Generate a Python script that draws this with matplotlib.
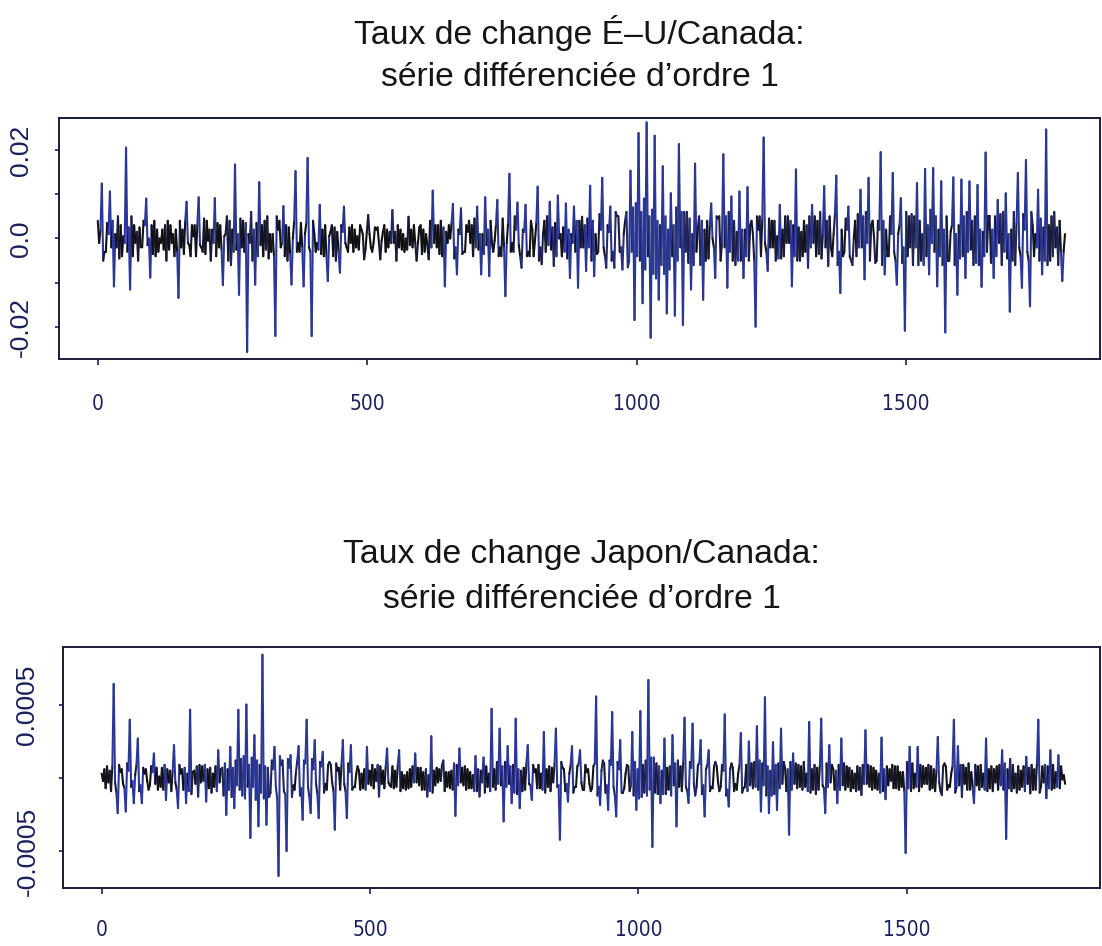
import numpy as np
import matplotlib
matplotlib.use("Agg")
import matplotlib.pyplot as plt
from matplotlib import font_manager
from matplotlib.collections import LineCollection
from matplotlib.colors import LinearSegmentedColormap, Normalize

# Differenced exchange-rate series, three readings per 7.5-day block:
# "main" (where the big moves are), then "core" and "fine" (day-to-day noise).
# US/Canada, in units of 1e-3
usca_main = [
    4, 12.4, -3, 10.6, -10.8, 5, -4, 20.5, -11.5, 3, -5, -2, 9, -8.8, 4, -3, 2, -5, 3, -4,
    -13.4, 2, 8.3, -4, 3, 9.3, -3, 4, -5, 9.1, -2, -10.5, 5, -6, 16.7, -12.7, 4, -25.6, 6, -10.4,
    12.7, -4, 5, -3, -22, 4, 7.3, -5, -10.4, 15.2, -3, -10.8, 18.2, -22, -3, 7.6, -4, -9.6, 3, -5,
    -7.7, 7.2, -3, 3, -2, 3, -4.7, 5.3, -3, 2, -4.7, 3, -2, 6.4, -5, 2, -3, 4.9, -2, -5,
    3, -3, -4.7, 10.8, -2, 4, -10.8, 3, 7.8, -8.1, 6.8, -3, 4, -4, 7.2, -8.1, 9.3, -8.5, -3, 8.7,
    -4, -13, 14.6, -3, 8.1, -6.6, 7.6, -4, -4, 11.7, -5.8, -3, 8.3, -6.2, 9.7, -4, 7.9, -8.9, 7.2, -11.1,
    4.9, -7.3, 11.9, -8.5, -3, 13.7, -6.6, 7.2, -6.6, 5, -7, 6, 15.3, -18.4, 23.8, -14.6, 26.2, -22.4, 23.2, -13.8,
    16.3, -16.9, 10.2, -17.4, 21.3, -19.5, 6, -11.5, 16.9, 5, -13.8, 4, 7.9, -8.9, 5, 19, -11.1, 9.5, -6, 10.6,
    -8.9, 11.6, 4, -19.9, 5, 22.8, -7.3, 4, -5, 7.6, -4, 5, -10.8, 15.6, -5, 4, -6.6, 7.6, -4, 6,
    11.8, -6.2, -4, 14.2, -12.3, -3, 7.2, -6, -4, 11, -9.2, 13.7, 4, -5, 19.5, -8.1, -4, 14.8, -10.4, 9.1,
    -20.8, 5, -6, 12.5, -5, 15.7, -8.1, 15.9, -10.8, 12.9, -21.2, -5, 13.8, -12.7, 13.3, -8.9, 12.9, -6, 12.1, -10.9,
    19.4, 5, -8.9, 8.7, -6, 10.2, -16.5, 6, 14.8, -11.1, 17.7, -15.3, -4, 11, -8.1, 24.6, -5, 6, -6, -9.6,
]
usca_core = [
    -1, -5, 3.5, -2, 1, -4.5, 0.5, -3, 5, -1, 2.5, 4, -1.5, 3, -4, 0, -2.5, 4, -1, 2,
    4, -3.5, -1, 3, -4, -1.5, 4.5, -0.5, 2, -4, 3, 0.5, -5, 2, -2.5, 4.5, -3, 1, -5, 3.5,
    -1.5, 4, -4.5, 1, 5, -2, -4, 2.5, 0, -3, 3.5, 1, -2, 4, -1, -3.5, 3, 0.5, -4, 1.5,
    3, -1, 2.5, -3, 0.5, 2, -2.5, 1, -1, 2.5, -0.5, -3, 1.5, -1, 3, -2.5, 0, -1.5, 3, -1,
    -3.5, 1, 4, -1, 3, -4, 1.5, 0, -4.5, 2, -3.5, 3, -1, 4.5, -2.5, 1, -1.5, 4, -0.5, -4,
    4.5, -1, -3, 5, -1.5, 2, -4, 4, -0.5, -5, 1, 5, -2.5, 3.5, 0, 2.5, -4.5, 1, -3, 4,
    -2, 4.5, -5, 1, 5.5, -2, 3, -5, 6, -3, 1, -6.5, -3, 8, -5, 9, -4, 6.5, -9, 3,
    -8, 2, -4, 7, -2, 6, -5.5, 1, -3, -6, 2, -4.5, 0, 5, -5, -2, 6, -5, 1.5, -5,
    2, -5, 1, 5, -4, -1, 4.5, -2, 0.5, -4.5, 5, -1, 3, -5, 1.5, -3, 5, -1, 4, -4.5,
    -2, 5, 1, -6, 2, 4.5, -4, 0, 5.5, -2, 6, -5, 0.5, 4, -6, 2, 5, -3, 1, -5.5,
    6, -2, 5, -6, 1, -4, 6.5, -3, 2, -6, 5, 1.5, -6, 3, -4, 6, -2.5, 5, -6, 1.5,
    -3, -5.5, 5, -1, 6, -4.5, 2, -6, -2, 5.5, -3, 6, 1, -5, 2.5, -6, 5, -2, 4, -3,
]
usca_fine = [
    2, -3, 1, 4, -2, 3, -1, 2.5, -4, 1.5, -2, 3, 0, -3.5, 2, -1, 3, -2.5, 1, -3,
    -2, 4, -1.5, 0.5, 3, -2, -3.5, 2, -1, 3.5, -2.5, 1, 4, -3, 1, -2, 3.5, -1, 2, -4,
    3, -2.5, 1, -4, 2, -1, 3, -3.5, 4, -1, -2, 3.5, -3, 1, -2.5, 2, -4, 1.5, 2.5, -3,
    1.5, -2, -1, 2, -2.5, 1, 1.5, -2, 2.5, -1, 1.5, 2, -1, 1.5, -2, 1, -2.5, 2, -1, 2.5,
    2, -1.5, -2, 3, -3.5, 2.5, -1, 3.5, -2, 1, -3, 1.5, 3, -2, 1, -3.5, 2, -1, 3, -2,
    -2, 3.5, -1, 2, -4, 1.5, -3, 2, 3.5, -2, 4, -1.5, 2.5, -4, 1, -3, 2, -1, 4, -2,
    3, -2, 4, -3.5, 2, -4, 1.5, -3, 5, -2, 4, -5, 7, -4, 6, -7, 5, -8, 4, -6,
    5, -7, 3, -5, 6, -3, 4.5, -6, 2, 4, -5, 3, -2, 4.5, -1, 5, -3, 4, -5, 2,
    -4, 3, -5, 2, 4.5, -3, -2, 4, -4.5, 2, -1, 4, -4, 2.5, -4, 3, -2, 5, -3.5, 1,
    4, -2, 5.5, -3, -4, 2, -5, 4, -2, 5, -1, 3, -5.5, 2, 4, -4, 1, -5, 3, -2,
    -4, 5.5, -2, 4, -6, 3, -1, 5, -4, 2, -5, 3, 1, -4.5, 5, -3, 4, -5.5, 2, -4,
    5, 2, -4, 5.5, -3, 1, -5, 3.5, -4, 2, -5, 3, -2, 4.5, -5, 3, -4, 2.5, -3, 1,
]

# Japan/Canada, in units of 1e-5
jpca_main = [
    3, -7, 5, 64.4, -24, 6, -22.9, 39.9, -17.2, 27, -17.2, 6, -5, 16.8, -8, 7, -15, 5, 22.5, -20.6,
    6, -17.2, 46.7, 5, -12.7, 8, -16.1, 7, -6, 19, 7, -25.2, 21.3, -20.6, 46.7, -12, 50.3, -41, 29.3, -33,
    84.4, -32, -10, 21.3, -67, 12, -50, 15.6, -8, 21.8, -28.6, 39.9, -24, 25.9, -27.4, 17.9, -8, 9, -35.4, 7,
    25.9, -27.4, 22.5, -6, 5, -7, 21.3, -5, 6, -12.7, 5, 20.2, -6, 5, 19, -7, 4, -6, 16.8, -5,
    4, -12.7, 28.6, -5, 6, 12, -6, 5, -25.9, 20.2, -5, 6, -7, 15, -12.7, 14, -6, 47.4, -8, 33.8,
    -29.7, 21.8, -17.2, 40.6, -20.6, 7, 22.5, -15, 6, -7, 31.5, -6, 7, 33.8, -42.2, 6, -16.1, 21.8, -6, 19,
    -8, 6, -7, 55.8, -18.4, 10, -21.8, 45.1, -26.3, 25.9, -7, 8, 31.5, -21.8, 45.8, -10, 67.1, -47.2, 10, -17.2,
    27, -8, 29.3, -33.1, 8, 41.3, -17, 37.2, -6, 25.9, -26.3, 19, -7, 8, -6, 43.5, -19.5, 7, -8, 30.8,
    -6, 25, -7, 35.4, -22.9, 55.3, -24, 24.5, -21.8, 33.8, 7, -38.8, 16.8, -7, 8, -6, 38.3, -8, 7, 40.6,
    -24, 22.5, 6, -17.2, 27, -8, 7, -7, 8, -11.6, 32.7, -6, 7, -8, 27.7, -14.5, 6, -7, 8, -6,
    -51.3, 21.3, -7, 21.3, -6, 7, -8, 6, 28.1, -11.6, 8, -6, 39.9, 21.8, -13, 7, -8, -17.2, 8, -6,
    27, -7, 6, -8, 19, -41.7, 13, -7, 8, -6, 14.5, -10.5, 6, 39.9, 8, -13.8, 19, -7, 15.6, -1,
]
jpca_core = [
    -2, 8, -9, -3, 9, -4, 10, -6, 2, -9, 7, -2, 8, -4, 1, -8, 6, -9, -3, 9,
    -8, 3, -11, -4, 9, -2, 6, -10, 8, -3, -12, 6, -13, 12, -8, 15, -6, 14, -15, 9,
    -14, 7, 12, -6, 15, -9, 13, -13, 4, -12, 12, -6, 13, -4, 11, -10, 9, -3, 10, -8,
    -4, 10, -8, 3, -8, 6, -4, 9, -2, 8, -7, -3, 8, -6, -9, 2, -7, 8, -3, 7,
    -8, 2, -10, 7, -2, -9, 4, -8, 9, -3, 8, -7, 2, -9, 5, -10, 3, -6, 11, -5,
    11, -4, 9, -11, 5, -8, -4, 9, -7, 3, -10, 8, -3, -6, 11, -9, 3, -10, 8, -3,
    9, -4, 8, -12, 5, -10, 12, -6, 11, -10, 3, -9, -12, 6, -13, 12, -8, 14, -11, 5,
    -11, 8, -5, 12, -9, -6, 11, -4, 9, -11, 6, -9, 8, -3, 9, -12, 6, -9, 3, -10,
    9, -5, 11, -8, 10, -12, 5, -11, 10, -4, -9, 11, -4, 9, -8, 3, -10, 9, -8, -5,
    10, -3, -8, 9, -5, 8, -9, 3, -8, 9, -4, 8, -7, 3, -9, 8, -2, 8, -8, 4,
    11, -9, 3, -9, 8, -4, 8, -9, -3, 8, -8, 3, -10, -5, 9, -8, 4, 9, -8, 3,
    -9, 8, -3, 9, -8, 6, -9, 3, -8, 8, -4, 9, -8, -10, -3, 8, -8, 4, -7, 2,
]
jpca_fine = [
    6, -3, 8, -10, 4, -7, 5, -2, 9, -5, 3, -8, 4, 7, -6, 9, -3, 5, -8, 3,
    7, -9, 4, 8, -3, 9, -7, 3, -9, 6, 10, -8, 7, -5, 13, -14, 9, -6, 12, -10,
    8, -13, 6, -14, 9, -11, 7, -5, 12, -7, 10, -13, 6, -11, 8, -4, 11, -9, 5, 9,
    -9, 4, -6, 8, 3, -8, 5, -7, 9, -4, 8, -5, -7, 9, 4, -8, 6, -3, 7, -8,
    6, -9, 5, -3, 9, 4, -7, 10, -5, 7, -8, 4, -9, 6, -3, 8, -9, 6, -4, 8,
    -6, 8, -10, 6, -9, 10, -5, 4, 9, -8, 6, -9, 10, -5, 7, -4, 9, -6, 10, -8,
    4, -9, 10, -6, 12, -5, 9, -12, 6, -10, 9, -5, 11, -14, 9, -12, 14, -10, 8, -11,
    7, -12, 10, -6, 11, -9, 7, -12, 10, -5, 9, -6, 11, -9, 5, -8, 10, -4, 9, -7,
    -9, 10, -6, 12, -5, 8, -12, 9, -7, 11, 6, -8, 10, -6, 11, -9, 6, -11, 9, -7,
    -6, 9, 5, -8, 10, -6, 5, -9, 7, -4, 9, -8, 5, -10, 6, -5, 9, -7, 4, -9,
    -7, 10, -6, 9, -4, 9, -7, 5, -9, 10, -5, 8, -6, 9, -4, 10, -7, -5, 9, -8,
    6, -9, 8, -5, 10, -7, 9, -10, 5, -9, 7, -8, 10, -6, 9, -7, 9, -6, 8, -4,
]

# put the three readings back in time order
usca_diff = np.column_stack([usca_main, usca_core, usca_fine]).ravel() * 1e-3
jpca_diff = np.column_stack([jpca_main, jpca_core, jpca_fine]).ravel() * 1e-5
days = np.linspace(0, 1795, len(usca_diff))

panels = [
    dict(y=usca_diff, title=("Taux de change É–U/Canada:", "série différenciée d’ordre 1"),
         ylim=(-0.0272, 0.0272), yticks=[-0.02, -0.01, 0.0, 0.01, 0.02],
         ylabels=["-0.02", "", "0.0", "", "0.02"], core=0.005,
         rect=[59 / 1102, 1 - 359 / 946, 1041 / 1102, 241 / 946], title_y=(33, 78),
         xpad=21, ypad=16),
    dict(y=jpca_diff, title=("Taux de change Japon/Canada:", "série différenciée d’ordre 1"),
         ylim=(-0.000753, 0.000897), yticks=[-0.0005, 0.0, 0.0005],
         ylabels=["-0.0005", "", "0.0005"], core=0.0001,
         rect=[63 / 1102, 1 - 888 / 946, 1037 / 1102, 241 / 946], title_y=(555, 600),
         xpad=19, ypad=14),
]

# a narrow face for the x tick labels if one is around
names = {f.name for f in font_manager.fontManager.ttflist}
narrow = dict(family=["DejaVu Sans"], fontstretch="condensed")
if "Liberation Sans Narrow" in names:
    narrow = dict(family=["Liberation Sans Narrow", "DejaVu Sans"])

ink = "#1b1f5a"
cmap = LinearSegmentedColormap.from_list("ink", ["#101010", "#1c1d40", "#2b3795"])

fig = plt.figure(figsize=(11.02, 9.46), dpi=100)

for p in panels:
    ax = fig.add_axes(p["rect"])
    y = p["y"]
    pts = np.column_stack([days, y])
    segs = np.stack([pts[:-1], pts[1:]], axis=1)
    mag = np.maximum(np.abs(y[:-1]), np.abs(y[1:]))
    lc = LineCollection(segs, cmap=cmap, norm=Normalize(p["core"] * 0.7, p["core"] * 1.5),
                        linewidths=1.5, capstyle="round")
    lc.set_array(mag)
    ax.add_collection(lc)

    ax.set_xlim(-72, 1860)
    ax.set_ylim(*p["ylim"])
    ax.set_xticks([0, 500, 1000, 1500])
    ax.set_xticklabels(["0", "500", "1000", "1500"], fontsize=15, color=ink, **narrow)
    ax.set_yticks(p["yticks"])
    ax.set_yticklabels(p["ylabels"], rotation=90, va="center",
                       family=["Liberation Sans", "DejaVu Sans"], fontsize=19, color=ink)
    ax.tick_params(axis="x", length=4, width=1.2, pad=p["xpad"], color=ink)
    ax.tick_params(axis="y", length=3, width=1.2, pad=p["ypad"], color=ink)
    for s in ax.spines.values():
        s.set_color("#1a1a3a")
        s.set_linewidth(1.4)

    x_mid = p["rect"][0] + p["rect"][2] / 2
    for txt, ypx in zip(p["title"], p["title_y"]):
        fig.text(x_mid, 1 - ypx / 946, txt, ha="center", va="center", fontsize=24.3,
                 family=["Liberation Sans", "DejaVu Sans"], color="#151515")

fig.savefig("out.png", dpi=100)
